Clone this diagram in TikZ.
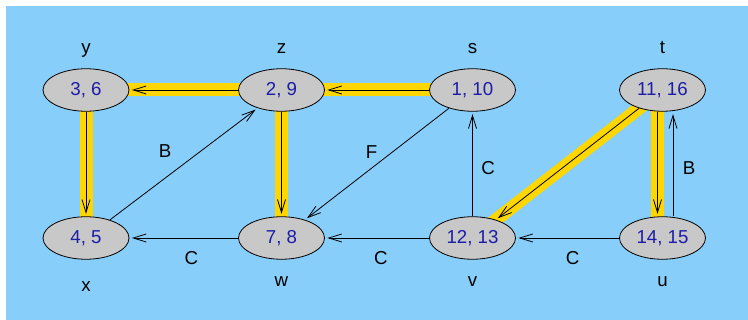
\documentclass[tikz,border=0pt]{standalone}
\usepackage{fontspec}
\setmainfont{Liberation Sans}
\usetikzlibrary{shapes.geometric,arrows.meta,backgrounds}
\definecolor{skyback}{HTML}{87CEFA}
\definecolor{treegold}{HTML}{FFD700}
\definecolor{nodegray}{HTML}{C8C8C8}
\definecolor{numblue}{HTML}{1C1CA8}

\begin{document}
\begin{tikzpicture}[x=1pt, y=-1pt,
  vertex/.style={ellipse, draw, line width=0.8pt, fill=nodegray, minimum width=86pt,
    minimum height=42.5pt, inner sep=0pt, text=numblue, font=\fontsize{18.7}{22}\selectfont},
  tag/.style={anchor=base, inner sep=0pt, font=\fontsize{18.7}{22}\selectfont},
  arr/.style={-{Straight Barb[length=13pt, width=8pt]}, line width=0.8pt, shorten >=2.5pt},
  tree/.style={treegold, line width=13pt}]
  % grid in pixels of the figure, y grows downward
  \def\yTop{90}
  \def\yBot{238}
  \useasboundingbox (0,0) rectangle (748,320);

  % ---------- vertices (discovery, finish) ----------
  \node[vertex] (y) at (86,\yTop)    {3, 6};
  \node[vertex] (z) at (281.5,\yTop) {2, 9};
  \node[vertex] (s) at (472.5,\yTop) {1, 10};
  \node[vertex] (t) at (662.5,\yTop) {11, 16};
  \node[vertex] (x) at (86,\yBot)    {4, 5};
  \node[vertex] (w) at (281.5,\yBot) {7, 8};
  \node[vertex] (v) at (472.5,\yBot) {12, 13};
  \node[vertex] (u) at (662.5,\yBot) {14, 15};

  % ---------- vertex names ----------
  \node[tag] (ny) at (86,53.5)  {y};
  \node[tag] (nz) at (281.5,53.5) {z};
  \node[tag] (ns) at (472.5,53.5) {s};
  \node[tag] (nt) at (662.5,53.5) {t};
  \node[tag] (nx) at (86,292)   {x};
  \node[tag] (nw) at (281.5,287) {w};
  \node[tag] (nv) at (472.5,287) {v};
  \node[tag] (nu) at (662.5,287) {u};

  % ---------- background and tree edges ----------
  \begin{scope}[on background layer]
    \fill[skyback] (6,6) rectangle (748,320);
    \draw[tree] (s.center) -- (z.center);
    \draw[tree] (z.center) -- (y.center);
    \draw[tree] (y.center) -- (x.center);
    \draw[tree] (z.center) -- (w.center);
    \draw[tree] (t.center) -- (v.center);
    \draw[tree] ([xshift=-5pt]t.center) -- ([xshift=-5pt]u.center);
  \end{scope}

  % ---------- edges ----------
  \draw[arr] (s) -- (z);
  \draw[arr] (z) -- (y);
  \draw[arr] (y) -- (x);
  \draw[arr] (z) -- (w);
  \draw[arr] (t) -- (v);
  \draw[arr] ([xshift=-5pt]t.south) -- ([xshift=-5pt]u.north);
  \draw[arr] ([xshift=10.5pt]u.north) -- ([xshift=10.5pt]t.south);
  \draw[arr] (x) -- (z);
  \draw[arr] (s) -- (w);
  \draw[arr] (w) -- (x);
  \draw[arr] (v) -- (w);
  \draw[arr] (v) -- (s);
  \draw[arr] (u) -- (v);

  % ---------- edge types ----------
  \node[tag] (lxz) at (165,158)   {B};
  \node[tag] (lsw) at (371.5,159) {F};
  \node[tag] (lwx) at (191.5,265) {C};
  \node[tag] (lvw) at (381,265)   {C};
  \node[tag] (lvs) at (488,175)   {C};
  \node[tag] (luv) at (572.5,265) {C};
  \node[tag] (lut) at (689,175)   {B};
\end{tikzpicture}
\end{document}
